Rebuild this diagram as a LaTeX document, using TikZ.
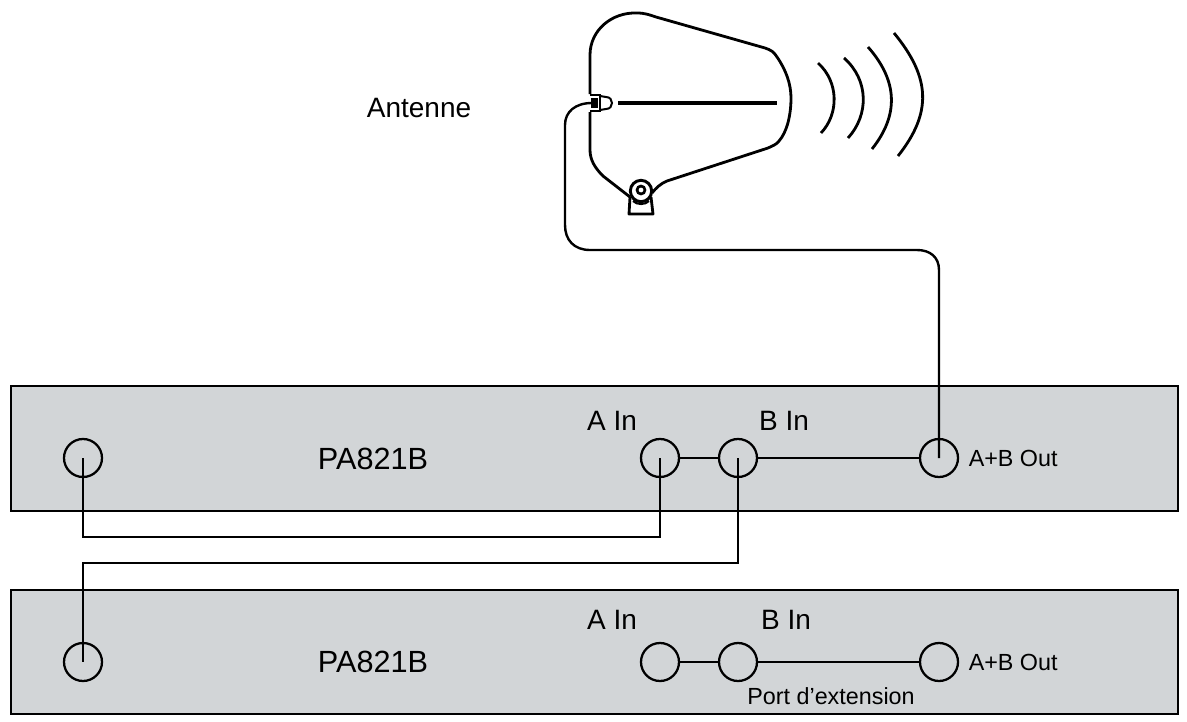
\documentclass[tikz,border=0pt]{standalone}
\usepackage{fontspec}
\setmainfont{Liberation Sans}
\usepackage{tikz}
\usetikzlibrary{positioning, calc}
\definecolor{panelgray}{RGB}{210,213,215}
\tikzset{
	panel/.style={draw=black, fill=panelgray, line width=1.5pt, minimum width=875.25pt, minimum height=93.5pt, inner sep=0pt},
	port/.style={circle, draw=black, line width=1.7pt, minimum size=28.5pt, inner sep=0pt},
	wire/.style={line width=1.8pt},
	outline/.style={line width=2.1pt, line join=round},
	biglabel/.style={font=\fontsize{21}{25}\selectfont, inner sep=0pt},
	outlabel/.style={font=\fontsize{17.5}{21}\selectfont, inner sep=0pt, anchor=west},
	namelabel/.style={font=\fontsize{23}{27}\selectfont, inner sep=0pt},
}
\begin{document}
\begin{tikzpicture}[x=0.75pt, y=-0.75pt]
			\useasboundingbox (0,0) rectangle (1187,721);

			\node[panel] (amp1) at (594.5,448.5) {};
			\node[panel] (amp2) at (594.5,652) {};

			\node[namelabel] (name1) at (373,459) {PA821B};
			\node[namelabel] (name2) at (373,662) {PA821B};
			\node[biglabel] (antlabel) at (419,108) {Antenne};

			\node[port] (exp1) at (83,458) {};
			\node[port] (ain1) at (660,458) {};
			\node[port] (bin1) at (738,458) {};
			\node[port] (out1) at (939,458) {};
			\node[port] (exp2) at (83,662) {};
			\node[port] (ain2) at (660,662) {};
			\node[port] (bin2) at (738,662) {};
			\node[port] (out2) at (939,662) {};

			\node[biglabel] (alabel1) at (612,421) {A In};
			\node[biglabel] (blabel1) at (784,421) {B In};
			\node[biglabel] (alabel2) at (612,620) {A In};
			\node[biglabel] (blabel2) at (786,620) {B In};
			\node[outlabel, right=7pt of out1.east, yshift=-0.5pt] (outlabel1) {A+B Out};
			\node[outlabel, right=7pt of out2.east, yshift=-0.5pt] (outlabel2) {A+B Out};
			\node[outlabel, anchor=center] (extlabel) at (831,696) {Port d’extension};

			\draw[wire] (ain1) -- (bin1);
			\draw[wire] (bin1) -- (out1);
			\draw[wire] (ain2) -- (bin2);
			\draw[wire] (bin2) -- (out2);

			\coordinate (linka) at (83,537);
			\coordinate (linkb) at (738,563);
			\draw[wire] (exp1.center) -- (linka) -| (ain1.center);
			\draw[wire] (bin1.center) -- (linkb) -| (exp2.center);

			% antenna body
			\draw[outline] (590,94) -- (590,55) .. controls (590,30) and (612,12) .. (637,13)
				.. controls (645,13) and (650,15) .. (656,17) -- (765,48)
				.. controls (771,50) and (774,52) .. (777,57)
				.. controls (786,70) and (791,84) .. (791,98)
				.. controls (791,115) and (787,132) .. (779,141)
				.. controls (776,145) and (772,146) .. (768,148) -- (667,181)
				.. controls (660,184) and (656,188) .. (652,193);
			\draw[outline] (590,112) -- (590,150) .. controls (590,160) and (595,168) .. (603,176) -- (630,197);
			\draw[line width=2.6pt] (618,103) -- (777,103);

			% feed connector
			\draw[line width=1.5pt] (590,95) -- (600,95) -- (600,111) -- (590,111);
			\draw[line width=1.5pt, fill=black] (592,99) rectangle (597,107);
			\draw[line width=1.5pt] (600,96) -- (606,97) .. controls (614,97) and (614,109) .. (606,109) -- (600,110);

			% mount
			\draw[outline] (630,197) -- (629,214) -- (653,214) -- (651,197);
			\node[circle, draw=black, line width=2.2pt, minimum size=16pt, inner sep=0pt] (mount) at (641,191) {};
			\node[circle, draw=black, line width=2pt, minimum size=6pt, inner sep=0pt] (pivot) at (641,190) {};
			\draw[line width=1.6pt] (633,201) .. controls (637,205) and (645,205) .. (649,201);

			% waves
			\draw[outline] (818,63) .. controls (839,82) and (839,114) .. (821,133);
			\draw[outline] (844,58) .. controls (869,80) and (869,115) .. (848,138);
			\draw[outline] (868,47) .. controls (898,81) and (899,115) .. (872,149);
			\draw[outline] (894,33) .. controls (931,78) and (932,113) .. (898,156);

			% antenna cable
			\coordinate (feed) at (592,103);
			\draw[wire] (out1.center) -- (939,270) .. controls (939,257) and (930,250) .. (917,250)
				-- (590,250) .. controls (574,250) and (565,240) .. (565,225)
				-- (565,125) .. controls (565,112) and (575,103) .. (feed);
		\end{tikzpicture}
\end{document}
